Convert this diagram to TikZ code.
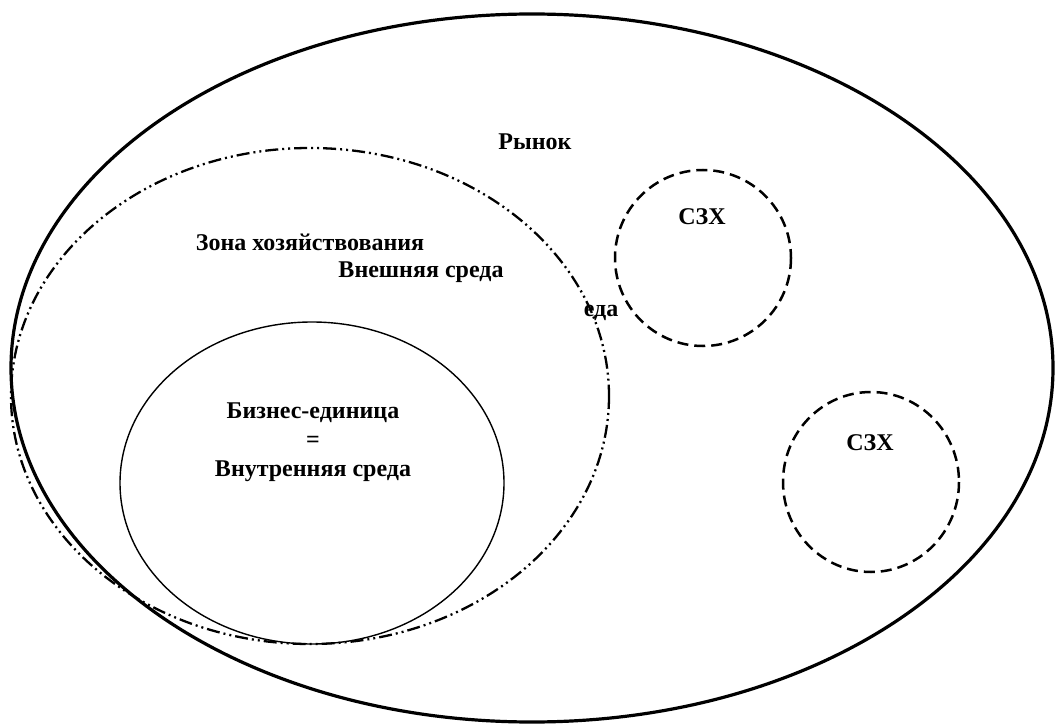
\documentclass[tikz,border=0pt]{standalone}
\usepackage{fontspec}
\setmainfont{Liberation Serif}
\usepackage{tikz}

\tikzset{
  lbl/.style={font=\fontsize{24}{29}\selectfont\bfseries, inner sep=0pt, align=center},
  zone/.style={line width=2.3pt, dash pattern=on 13pt off 4pt on 2pt off 4pt on 2pt off 4pt},
  szx/.style={line width=2.5pt, dash pattern=on 11pt off 6pt}
}

\begin{document}
\begin{tikzpicture}[x=1pt, y=-1pt]
\useasboundingbox (0, 0) rectangle (1055, 727);
\draw [line width=3.2pt] (532, 368) ellipse [x radius=521, y radius=354];
\draw [zone] (310, 396) ellipse [x radius=299, y radius=248];
\draw [line width=1.4pt] (312, 483) ellipse [x radius=192, y radius=161];
\draw [szx] (703, 258) circle [radius=88];
\draw [szx] (871, 482) ellipse [x radius=88, y radius=90];
\node [lbl] (market) at (535, 142) {Рынок};
\node [lbl] (zone) at (310, 242) {Зона хозяйствования};
\node [lbl] (outer) at (421, 272) {Внешняя среда};
\node [lbl] (frag) at (601, 313) {еда};
\node [lbl] (unit) at (313, 442) {Бизнес-единица\\=\\Внутренняя среда};
\node [lbl] (szx1) at (702, 217) {СЗХ};
\node [lbl] (szx2) at (870, 443) {СЗХ};
\end{tikzpicture}
\end{document}
